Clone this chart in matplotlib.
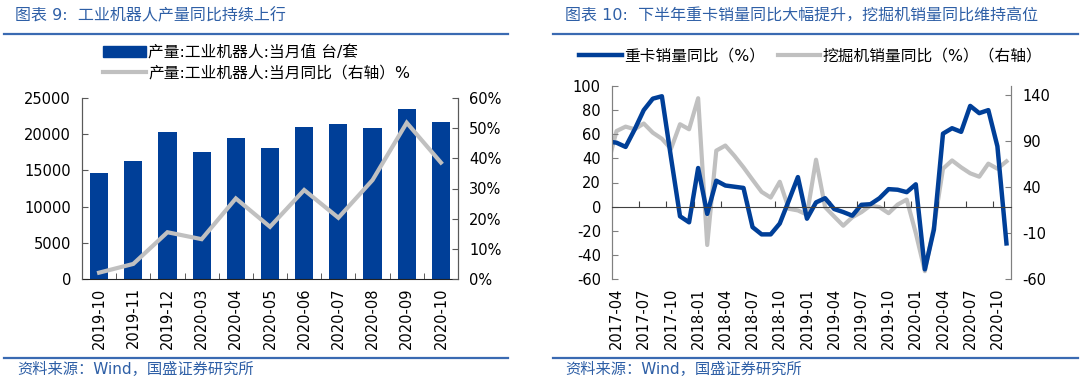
import numpy as np
import pandas as pd
import matplotlib
matplotlib.use("Agg")
import matplotlib.pyplot as plt
from matplotlib.lines import Line2D
from matplotlib.patches import Patch

plt.rcParams['font.family'] = ['DejaVu Sans', 'Noto Sans CJK SC']
plt.rcParams['axes.unicode_minus'] = False

# ---- 图表9 数据 ----
robot_months = ['2019-10', '2019-11', '2019-12', '2020-03', '2020-04', '2020-05',
                '2020-06', '2020-07', '2020-08', '2020-09', '2020-10']
robot_output = [14680, 16340, 20260, 17540, 19520, 18050, 21040, 21360, 20900, 23440, 21730]
robot_yoy = [2.1, 5.0, 15.5, 13.2, 26.7, 17.3, 29.5, 20.3, 32.8, 51.8, 38.6]

# ---- 图表10 数据 (2017-03 ~ 2020-11) ----
months = list(pd.period_range('2017-03', '2020-11', freq='M').strftime('%Y-%m'))
truck_yoy = [54, 53, 49.5, 64, 80, 89.5, 91.5, 41, -8, -13, 32, -6, 21.5, 17.5, 16.5, 15.5,
             -17, -23, -23, -14, 5, 24.5, -10, 3.5, 7, -2, -4.5, -7.5, 1.5, 2, 7, 14.5,
             14, 12, 18.5, -52, -19, 60.5, 65, 62, 83.5, 77.5, 80, 50, -30.5]
excavator_yoy = [63, 101, 105.8, 102.9, 109.2, 99.2, 92.6, 81.5, 108.4, 102.9, 136.7, -23,
                 79.7, 85.2, 74, 61.5, 48, 34.8, 28.6, 45.8, 16.4, 14.6, 10, 69.8, 18.2, 8,
                 -2, 7.2, 12.7, 20, 18.2, 11.6, 21, 26.4, -10, -51.5, -3, 60, 69, 61.5, 55,
                 51.3, 65.5, 60, 68]

BLUE = '#003F98'
GREY = '#C0C0C0'
TITLE_C = '#2E5FA6'
FS = 10.5
LEG_FS = 11.3

fig = plt.figure(figsize=(10.8, 3.84), dpi=100)

# 标题、分隔线、来源
fig.text(15 / 1080, 1 - 16 / 384, '图表 9:  工业机器人产量同比持续上行', color=TITLE_C,
         fontsize=11.5, va='center', ha='left')
fig.text(565 / 1080, 1 - 16 / 384, '图表 10:  下半年重卡销量同比大幅提升，挖掘机销量同比维持高位',
         color=TITLE_C, fontsize=11.5, va='center', ha='left')
for x0, x1 in [(4, 508), (553, 1078)]:
    for yy in [34, 358]:
        fig.add_artist(Line2D([x0 / 1080, x1 / 1080], [1 - yy / 384] * 2,
                              color='#3A6AB2', lw=1.6))
fig.text(17 / 1080, 1 - 369 / 384, '资料来源：Wind，国盛证券研究所', color=TITLE_C,
         fontsize=11, va='center', ha='left')
fig.text(565 / 1080, 1 - 369 / 384, '资料来源：Wind，国盛证券研究所', color=TITLE_C,
         fontsize=11, va='center', ha='left')

# ---- 左图 ----
ax1 = fig.add_axes([82 / 1080, 1 - 279 / 384, 376 / 1080, 181 / 384])
x1 = np.arange(len(robot_months))
ax1.bar(x1, robot_output, width=0.53, color=BLUE, zorder=2)
ax1.set_xlim(-0.5, len(robot_months) - 0.5)
ax1.set_ylim(0, 25000)
ax1.set_yticks(range(0, 25001, 5000))
ax1.set_xticks(x1)
ax1.set_xticklabels(robot_months, rotation=90, fontsize=FS)
ax1.tick_params(axis='x', length=0, pad=6)
ax1.set_xticks(x1[:-1] + 0.5, minor=True)
ax1.tick_params(axis='x', which='minor', direction='in', length=4, color='#404040')
ax1.tick_params(axis='y', direction='in', length=4, labelsize=FS, color='#595959', pad=8)
ax1.spines['top'].set_visible(False)
for s in ['left', 'right']:
    ax1.spines[s].set_color('#595959')
ax1.spines['bottom'].set_color('#222222')

ax1r = ax1.twinx()
ax1r.plot(x1, robot_yoy, color=GREY, lw=3, solid_joinstyle='miter')
ax1r.set_ylim(0, 60)
ax1r.set_yticks(range(0, 61, 10))
ax1r.set_yticklabels([f'{v}%' for v in range(0, 61, 10)])
ax1r.tick_params(axis='y', direction='in', length=4, labelsize=FS, color='#595959', pad=8)
ax1r.spines['top'].set_visible(False)
for s in ['left', 'right']:
    ax1r.spines[s].set_color('#595959')
ax1r.spines['bottom'].set_visible(False)

fig.legend([Patch(color=BLUE), Line2D([], [], color=GREY, lw=3)],
           ['产量:工业机器人:当月值 台/套', '产量:工业机器人:当月同比（右轴）%'],
           loc='upper left', bbox_to_anchor=(97 / 1080, 1 - 39 / 384), frameon=False,
           fontsize=LEG_FS, handlelength=2.7, handletextpad=0.15, labelspacing=0.3,
           borderaxespad=0)

# ---- 右图 ----
ax2 = fig.add_axes([612 / 1080, 1 - 279 / 384, 399 / 1080, 193 / 384])
x2 = np.arange(len(months))
ax2r = ax2.twinx()
ax2.set_zorder(ax2r.get_zorder() + 1)
ax2.patch.set_visible(False)

ax2r.plot(x2, excavator_yoy, color=GREY, lw=3)
ax2.plot(x2, truck_yoy, color=BLUE, lw=3.2)

ax2.set_xlim(0.5, len(months) - 0.5)
ax2.set_ylim(-60, 100)
ax2.set_yticks(range(-60, 101, 20))
ax2r.set_ylim(-60, 150)
ax2r.set_yticks(range(-60, 141, 50))

lab_idx = list(range(1, len(months), 3))
ax2.set_xticks([i - 0.5 for i in lab_idx[1:]])
ax2.set_xticklabels([])
ax2.spines['bottom'].set_position(('data', 0))
ax2.spines['bottom'].set_color('#404040')
ax2.tick_params(axis='x', direction='in', length=4, color='#404040')

sec = ax2.secondary_xaxis(0.0)
sec.set_xticks(lab_idx)
sec.set_xticklabels([months[i] for i in lab_idx], rotation=90, fontsize=FS)
sec.tick_params(length=0, pad=6)
sec.spines['bottom'].set_visible(False)

for a in (ax2, ax2r):
    a.spines['top'].set_visible(False)
    a.spines['left'].set_color('#808080')
    a.spines['right'].set_color('#808080')
ax2r.spines['bottom'].set_visible(False)
ax2.tick_params(axis='y', direction='in', length=4, labelsize=FS, color='#808080', pad=8)
ax2r.tick_params(axis='y', direction='in', length=4, labelsize=FS, color='#808080', pad=8)

fig.legend([Line2D([], [], color=BLUE, lw=3.2), Line2D([], [], color=GREY, lw=3)],
           ['重卡销量同比（%）', '挖掘机销量同比（%）（右轴）'],
           loc='center left', bbox_to_anchor=(573 / 1080, 1 - 56 / 384), frameon=False,
           fontsize=LEG_FS, ncol=2, handlelength=2.7, handletextpad=0.15, columnspacing=0.8,
           borderaxespad=0)

fig.savefig('out.png', dpi=100)
